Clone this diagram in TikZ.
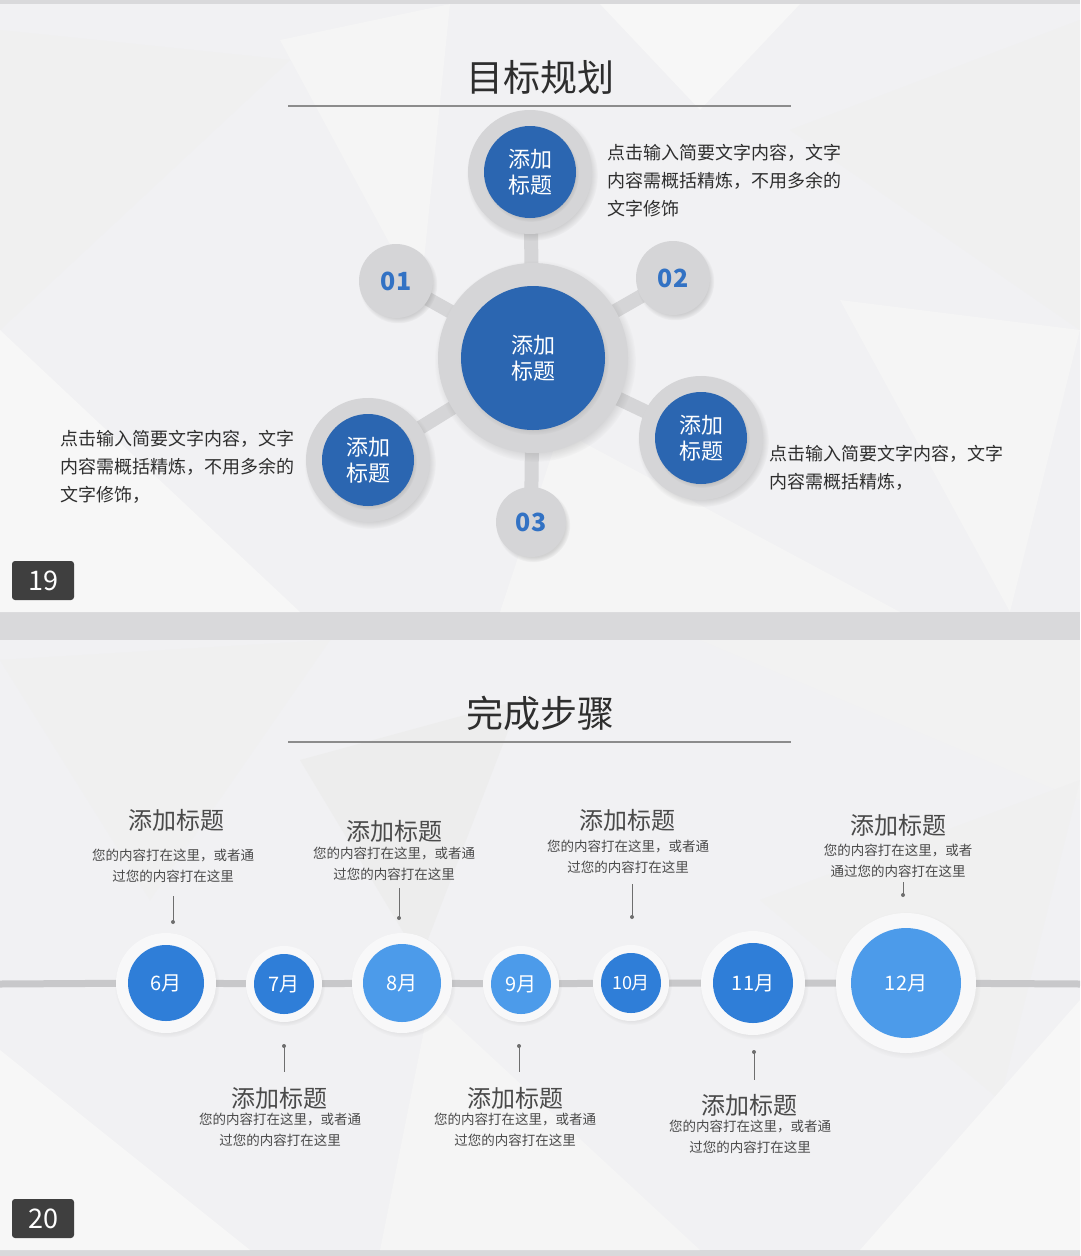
\documentclass[tikz,border=0pt]{standalone}
\usepackage{fontspec}
\setmainfont{Noto Sans CJK SC}
\usetikzlibrary{shadows}
\definecolor{framebg}{HTML}{D9D9DB}
\definecolor{slidebg}{HTML}{F1F1F3}
\definecolor{ringgray}{HTML}{D5D5D7}
\definecolor{dblue}{HTML}{2B66B1}
\definecolor{numblue}{HTML}{3272C4}
\definecolor{txtgray}{HTML}{2E2E2E}
\definecolor{descgray}{HTML}{4A4A4A}
\definecolor{mdark}{HTML}{2F7ED8}
\definecolor{mlight}{HTML}{4C9BEA}
\definecolor{pagebg}{HTML}{3F3F3F}
\definecolor{rulegray}{HTML}{8C8C8C}
\definecolor{leadgray}{HTML}{6E6E6E}
\definecolor{tbar}{HTML}{C8C8CA}
\definecolor{mringc}{HTML}{F8F8F9}
\pgfdeclarelayer{poly}
\pgfdeclarelayer{bg}
\pgfsetlayers{poly,bg,main}
\begin{document}
\begin{tikzpicture}[x=1pt,y=-1pt,
  ring/.style={circle,fill=ringgray,inner sep=0pt,minimum size=#1,
    circular drop shadow={shadow scale=1.06,opacity=.35,shadow xshift=2pt,shadow yshift=-3pt}},
  bluedot/.style={circle,fill=dblue,inner sep=0pt,minimum size=#1,text=white,align=center,
    font=\fontsize{22}{26}\selectfont,
    circular drop shadow={shadow scale=1.04,opacity=.4,shadow xshift=1pt,shadow yshift=-2pt}},
  numdot/.style={circle,fill=ringgray,inner sep=0pt,minimum size=#1,text=numblue,
    font=\fontsize{25}{28}\selectfont\bfseries,
    circular drop shadow={shadow scale=1.06,opacity=.3,shadow xshift=2pt,shadow yshift=-3pt}},
  bar/.style={line width=14pt,draw=ringgray},
  bodytext/.style={inner sep=0pt,align=left,text=txtgray,font=\fontsize{18}{28}\selectfont},
  ttl/.style={inner sep=0pt,text=txtgray,font=\fontsize{37}{40}\selectfont},
  rule/.style={draw=rulegray,line width=1.2pt},
  mring/.style={circle,fill=mringc,inner sep=0pt,minimum size=#1,
    circular drop shadow={shadow scale=1.05,opacity=.18,shadow xshift=1pt,shadow yshift=-2pt}},
  mdot/.style={circle,inner sep=0pt,minimum size=#1,text=white,font=\fontsize{20}{24}\selectfont},
  tline/.style={line width=7pt,draw=tbar},
  stitle/.style={inner sep=0pt,text=descgray,font=\fontsize{24}{28}\selectfont},
  sdesc/.style={inner sep=0pt,align=center,text=descgray,font=\fontsize{13.5}{21}\selectfont},
  leader/.style={draw=leadgray,line width=0.9pt},
  ldot/.style={circle,fill=leadgray,inner sep=0pt,minimum size=4pt},
  pagebox/.style={rounded corners=3pt,fill=pagebg,text=white,inner sep=0pt,minimum width=62pt,
    minimum height=39pt,font=\fontsize{27}{28}\selectfont}
]
\useasboundingbox (0,0) rectangle (1080,1256);
% ---------- backgrounds ----------
\begin{pgfonlayer}{poly}
\fill[framebg] (0,0) rectangle (1080,1256);
\fill[slidebg] (0,4) rectangle (1080,612);
\fill[slidebg] (0,640) rectangle (1080,1250);
% slide 19 low-poly facets
\fill[black!6] (0,30) -- (290,60) -- (0,330) -- cycle;
\fill[black!4] (280,40) -- (450,4) -- (420,300) -- cycle;
\fill[black!6] (790,130) -- (1080,20) -- (1080,330) -- cycle;
\fill[black!4] (840,300) -- (1080,330) -- (1010,612) -- cycle;
\fill[black!3] (0,330) -- (300,612) -- (0,612) -- cycle;
\fill[black!4] (560,430) -- (900,612) -- (500,612) -- cycle;
\fill[black!3] (600,4) -- (800,4) -- (700,110) -- cycle;
% slide 20 low-poly facets
\fill[black!6] (0,660) -- (330,640) -- (150,900) -- cycle;
\fill[black!7] (300,760) -- (520,700) -- (420,960) -- cycle;
\fill[black!5] (700,640) -- (1080,640) -- (1080,800) -- cycle;
\fill[black!6] (760,900) -- (1080,780) -- (1000,1100) -- cycle;
\fill[black!3] (0,1050) -- (250,1250) -- (0,1250) -- cycle;
\fill[black!4] (430,1000) -- (700,1250) -- (380,1250) -- cycle;
\fill[black!3] (1080,1000) -- (1080,1250) -- (860,1250) -- cycle;
\end{pgfonlayer}

% ---------- slide 19 ----------
\node[ttl] (title1) at (540,77) {目标规划};
\coordinate (r1a) at (288,106);
\coordinate (r1b) at (791,106);
\draw[rule] (r1a) -- (r1b);

\node[ring=190pt] (cring) at (533,358) {};
\node[bluedot=144pt] (ctr) at (533,358) {添加\\标题};
\node[ring=124pt] (tring) at (530,172) {};
\node[bluedot=92pt] (tnode) at (530,172) {添加\\标题};
\node[ring=124pt] (lring) at (368,460) {};
\node[bluedot=92pt] (lnode) at (368,460) {添加\\标题};
\node[ring=124pt] (rring) at (701,438) {};
\node[bluedot=92pt] (rnode) at (701,438) {添加\\标题};
\node[numdot=74pt] (n1) at (396,281) {01};
\node[numdot=74pt] (n2) at (673,278) {02};
\node[numdot=70pt] (n3) at (531,522) {03};

\begin{pgfonlayer}{bg}
\draw[bar] (cring.center) -- (tring.center);
\draw[bar] (cring.center) -- (lring.center);
\draw[bar] (cring.center) -- (rring.center);
\draw[bar] (cring.center) -- (n1.center);
\draw[bar] (cring.center) -- (n2.center);
\draw[bar] (cring.center) -- (n3.center);
\end{pgfonlayer}

\node[bodytext,anchor=west] (txt1) at (607,181) {点击输入简要文字内容，文字\\内容需概括精炼，不用多余的\\文字修饰};
\node[bodytext,anchor=west] (txt2) at (60,467) {点击输入简要文字内容，文字\\内容需概括精炼，不用多余的\\文字修饰，};
\node[bodytext,anchor=west] (txt3) at (769,468) {点击输入简要文字内容，文字\\内容需概括精炼，};

\node[pagebox] (p19) at (43,580.5) {19};

% ---------- slide 20 ----------
\node[ttl] (title2) at (540,713) {完成步骤};
\coordinate (r2a) at (288,742);
\coordinate (r2b) at (791,742);
\draw[rule] (r2a) -- (r2b);

\node[mring=100pt] (r6) at (166,983) {};
\node[mdot=76pt,fill=mdark] (m6) at (166,983) {6月};
\node[mring=76pt] (r7) at (284,984) {};
\node[mdot=60pt,fill=mdark] (m7) at (284,984) {7月};
\node[mring=100pt] (r8) at (402,983) {};
\node[mdot=78pt,fill=mlight] (m8) at (402,983) {8月};
\node[mring=76pt] (r9) at (521,984) {};
\node[mdot=60pt,fill=mlight] (m9) at (521,984) {9月};
\node[mring=76pt] (r10) at (631,983) {};
\node[mdot=60pt,fill=mdark,font=\fontsize{18}{22}\selectfont] (m10) at (631,983) {10月};
\node[mring=104pt] (r11) at (753,983) {};
\node[mdot=80pt,fill=mdark] (m11) at (753,983) {11月};
\node[mring=140pt] (r12) at (906,983) {};
\node[mdot=110pt,fill=mlight] (m12) at (906,983) {12月};

\coordinate (tl0) at (0,984);
\coordinate (tl1) at (1080,984);
\begin{pgfonlayer}{bg}
\draw[tline] (tl0) -- (r6.center) -- (r7.center) -- (r8.center) -- (r9.center) -- (r10.center) -- (r11.center) -- (r12.center) -- (tl1);
\end{pgfonlayer}

% labels above
\node[stitle] (t6) at (176,820) {添加标题};
\node[sdesc] (d6) at (173,865.5) {您的内容打在这里，或者通\\过您的内容打在这里};
\coordinate (a6) at (173,896); \coordinate (b6) at (173,922);
\draw[leader] (a6) -- (b6); \node[ldot] at (b6) {};

\node[stitle] (t8) at (394,831) {添加标题};
\node[sdesc] (d8) at (394,863.5) {您的内容打在这里，或者通\\过您的内容打在这里};
\coordinate (a8) at (399,888); \coordinate (b8) at (399,918);
\draw[leader] (a8) -- (b8); \node[ldot] at (b8) {};

\node[stitle] (t10) at (627,820) {添加标题};
\node[sdesc] (d10) at (628,856.5) {您的内容打在这里，或者通\\过您的内容打在这里};
\coordinate (a10) at (632,884); \coordinate (b10) at (632,917);
\draw[leader] (a10) -- (b10); \node[ldot] at (b10) {};

\node[stitle] (t12) at (898,825) {添加标题};
\node[sdesc] (d12) at (898,860.5) {您的内容打在这里，或者\\通过您的内容打在这里};
\coordinate (a12) at (903,882); \coordinate (b12) at (903,895);
\draw[leader] (a12) -- (b12); \node[ldot] at (b12) {};

% labels below
\coordinate (a7) at (284,1046); \coordinate (b7) at (284,1072);
\draw[leader] (a7) -- (b7); \node[ldot] at (a7) {};
\node[stitle] (t7) at (279,1098) {添加标题};
\node[sdesc] (d7) at (280,1129.5) {您的内容打在这里，或者通\\过您的内容打在这里};

\coordinate (a9) at (519,1046); \coordinate (b9) at (519,1072);
\draw[leader] (a9) -- (b9); \node[ldot] at (a9) {};
\node[stitle] (t9) at (515,1098) {添加标题};
\node[sdesc] (d9) at (515,1129.5) {您的内容打在这里，或者通\\过您的内容打在这里};

\coordinate (a11) at (754,1052); \coordinate (b11) at (754,1080);
\draw[leader] (a11) -- (b11); \node[ldot] at (a11) {};
\node[stitle] (t11) at (749,1105) {添加标题};
\node[sdesc] (d11) at (750,1136.5) {您的内容打在这里，或者通\\过您的内容打在这里};

\node[pagebox] (p20) at (43,1218.5) {20};
\end{tikzpicture}
\end{document}
